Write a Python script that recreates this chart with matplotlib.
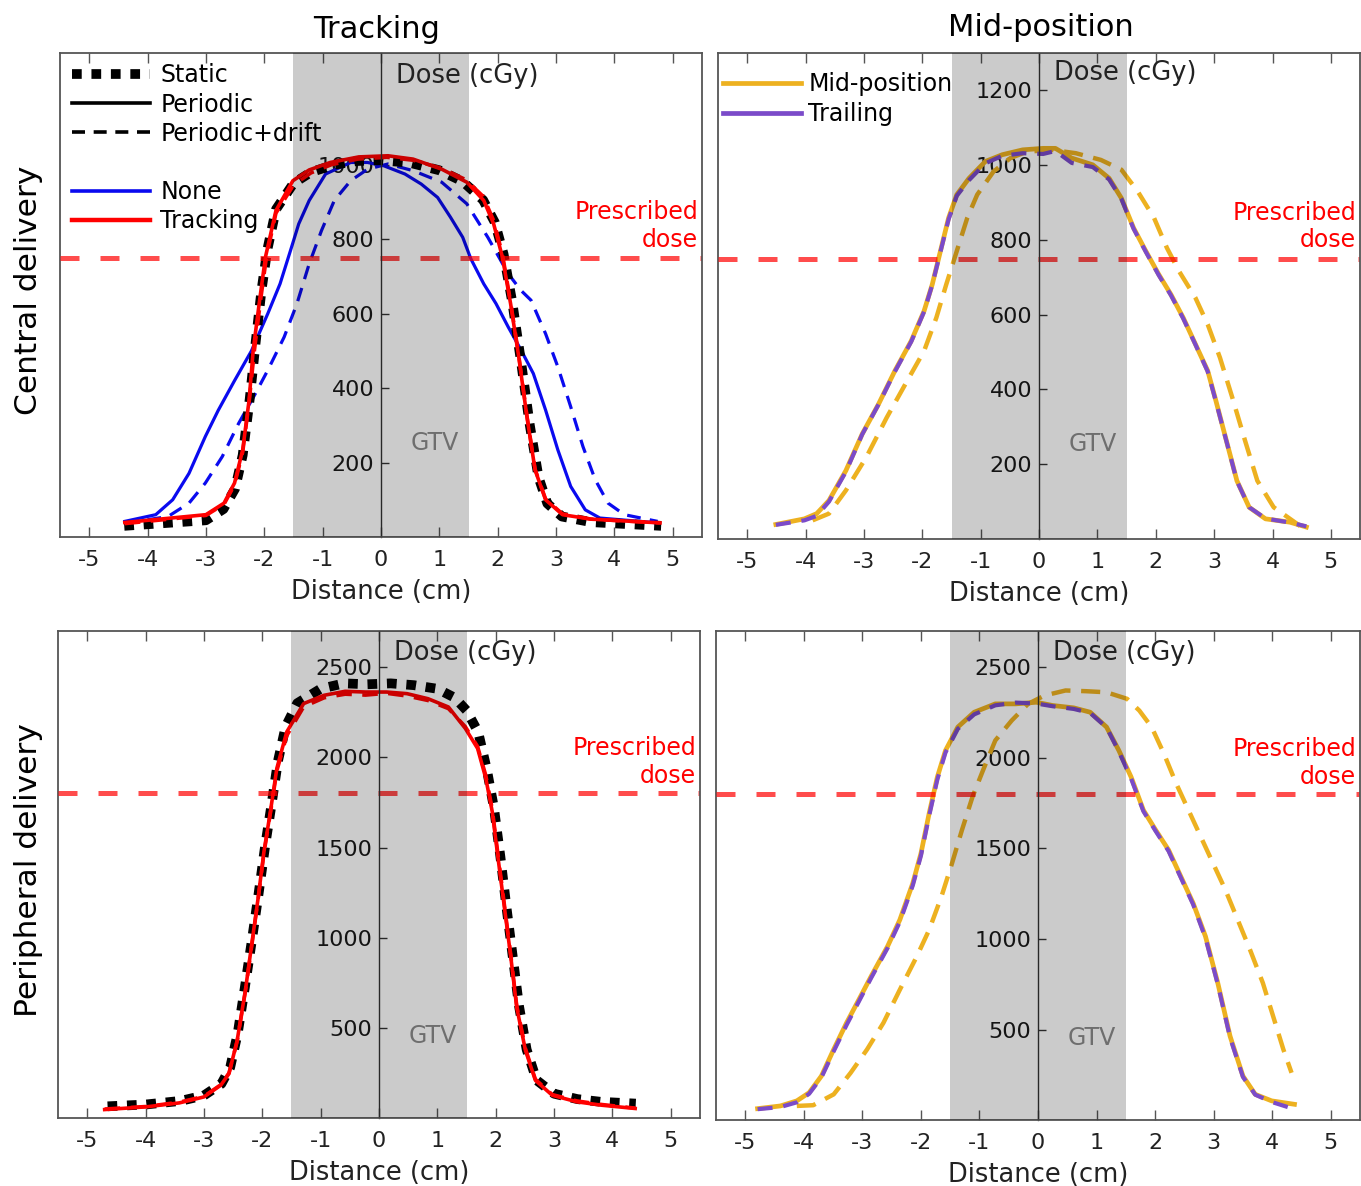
import matplotlib
matplotlib.use("Agg")
import matplotlib.pyplot as plt
from matplotlib.lines import Line2D

plt.rcParams["font.family"] = ["DejaVu Sans"]
plt.rcParams["axes.unicode_minus"] = False

# ==================================================
# DATA
# ==================================================

x_ticks = [-5, -4, -3, -2, -1, 0, 1, 2, 3, 4, 5]
gtv_edges = [-1.5, 1.5]
prescribed_central = 750
prescribed_peripheral = 1800

# --- central delivery, tracking panel
x_c_static = [-4.4, -3.0, -2.7, -2.5, -2.37, -2.25, -2.15, -2.05, -1.95, -1.8, -1.5, -1.2, -0.8, -0.4, 0.0,
              0.5, 1.0, 1.4, 1.75, 1.95, 2.1, 2.25, 2.4, 2.55, 2.7, 2.85, 3.1, 3.6, 4.8]
y_c_static = [30, 45, 75, 130, 220, 370, 520, 660, 770, 880, 950, 980, 1000, 1010, 1012,
              1005, 985, 955, 905, 845, 760, 630, 470, 300, 160, 90, 55, 40, 30]

x_c_trk_per = [-4.39, -3.0, -2.69, -2.51, -2.37, -2.26, -2.19, -2.08, -1.98, -1.80, -1.51, -1.23, -0.87, -0.38, 0.12,
               0.55, 1.04, 1.47, 1.76, 1.93, 2.08, 2.22, 2.36, 2.50, 2.64, 2.82, 3.11, 3.60, 4.78]
y_c_trk_per = [39, 60, 91, 145, 234, 368, 502, 636, 752, 877, 957, 986, 1006, 1021, 1024,
               1015, 988, 953, 904, 841, 752, 627, 484, 323, 180, 100, 60, 48, 38]

x_c_trk_drift = [-4.39, -3.0, -2.69, -2.51, -2.37, -2.26, -2.17, -2.06, -1.96, -1.80, -1.50, -1.20, -0.85, -0.40, 0.10,
                 0.55, 1.05, 1.45, 1.75, 1.93, 2.08, 2.22, 2.36, 2.50, 2.64, 2.82, 3.11, 3.60, 4.78]
y_c_trk_drift = [36, 58, 88, 140, 228, 362, 500, 640, 755, 870, 945, 978, 1000, 1015, 1020,
                 1012, 990, 960, 915, 850, 760, 632, 488, 326, 182, 102, 62, 48, 38]

x_c_none_per = [-4.39, -3.86, -3.57, -3.29, -3.01, -2.79, -2.51, -2.22, -1.94, -1.73, -1.55, -1.41, -1.23, -0.95,
                -0.52, -0.23, 0.05, 0.41, 0.69, 0.97, 1.19, 1.40, 1.54, 1.76, 1.97, 2.18, 2.40, 2.61, 2.82,
                3.03, 3.25, 3.50, 3.75, 4.74]
y_c_none_per = [42, 60, 100, 171, 270, 340, 420, 500, 600, 680, 770, 841, 904, 975,
                1006, 1006, 997, 975, 948, 912, 859, 805, 747, 680, 627, 564, 502, 439, 341,
                234, 136, 73, 51, 38]

x_c_none_drift = [-4.39, -3.65, -3.29, -3.01, -2.72, -2.44, -2.15, -1.94, -1.66, -1.44, -1.23, -1.02, -0.80, -0.52,
                  -0.23, 0.12, 0.55, 1.04, 1.47, 1.83, 2.18, 2.40, 2.57, 2.82, 3.03, 3.25, 3.46, 3.67, 3.89,
                  4.17, 4.74]
y_c_none_drift = [37, 55, 91, 145, 216, 305, 386, 448, 537, 627, 734, 823, 904, 957,
                  988, 1002, 984, 953, 895, 805, 707, 662, 636, 546, 457, 350, 243, 154, 91,
                  60, 42]

# --- central delivery, mid-position panel
x_c_mid_per = [-4.51, -4.02, -3.81, -3.60, -3.31, -3.03, -2.75, -2.47, -2.19, -1.97, -1.83, -1.69, -1.55, -1.41,
               -1.20, -0.92, -0.63, -0.28, 0.07, 0.28, 0.56, 0.92, 1.20, 1.41, 1.62, 1.83, 2.05, 2.26, 2.47,
               2.68, 2.89, 3.03, 3.21, 3.39, 3.60, 3.88, 4.30, 4.58]
y_c_mid_per = [39, 54, 68, 103, 183, 281, 361, 450, 530, 610, 681, 770, 859, 921,
               965, 1010, 1028, 1041, 1045, 1045, 1019, 1001, 965, 912, 832, 770, 708, 654, 592,
               521, 450, 370, 263, 156, 85, 54, 45, 32]

x_c_trail = [-4.51, -4.02, -3.81, -3.60, -3.31, -3.03, -2.75, -2.47, -2.19, -1.97, -1.83, -1.69, -1.55, -1.41,
             -1.20, -0.92, -0.63, -0.28, 0.07, 0.28, 0.56, 0.92, 1.20, 1.41, 1.62, 1.83, 2.05, 2.26, 2.47,
             2.68, 2.89, 3.03, 3.21, 3.39, 3.60, 3.88, 4.30, 4.58]
y_c_trail = [38, 50, 62, 100, 180, 280, 360, 448, 528, 608, 680, 768, 855, 918,
             960, 1005, 1025, 1032, 1030, 1038, 1006, 995, 962, 910, 830, 768, 706, 652, 590,
             520, 448, 368, 262, 155, 85, 55, 44, 34]

x_c_mid_drift = [-3.88, -3.60, -3.31, -2.96, -2.61, -2.26, -1.97, -1.76, -1.59, -1.41, -1.23, -1.06, -0.78, -0.49,
                 -0.21, 0.21, 0.63, 1.06, 1.41, 1.69, 1.97, 2.19, 2.40, 2.68, 2.89, 3.10, 3.31, 3.53, 3.74,
                 4.02, 4.30, 4.58]
y_c_mid_drift = [50, 68, 130, 219, 325, 423, 503, 592, 681, 770, 859, 921, 983, 1019,
                 1036, 1041, 1032, 1014, 988, 930, 859, 779, 716, 645, 574, 485, 379, 263, 156,
                 85, 54, 23]

# --- peripheral delivery, tracking panel
x_p_static = [-4.65, -4.0, -3.4, -3.0, -2.7, -2.55, -2.42, -2.3, -2.18, -2.06, -1.95, -1.84, -1.73, -1.6, -1.4,
              -1.0, -0.6, -0.2, 0.2, 0.6, 1.0, 1.3, 1.5, 1.7, 1.85, 1.97, 2.08, 2.18, 2.29, 2.4,
              2.53, 2.7, 3.0, 3.4, 3.8, 4.4]
y_p_static = [65, 75, 95, 125, 190, 280, 470, 720, 980, 1250, 1510, 1740, 1980, 2170, 2300,
              2380, 2410, 2405, 2410, 2400, 2380, 2330, 2260, 2140, 1930, 1720, 1450, 1180, 900, 620,
              380, 210, 135, 105, 90, 80]

x_p_trk_per = [-4.70, -3.99, -3.42, -3.0, -2.71, -2.57, -2.43, -2.29, -2.18, -2.07, -1.97, -1.86, -1.75, -1.58,
               -1.29, -0.94, -0.58, -0.23, 0.13, 0.48, 0.84, 1.19, 1.48, 1.69, 1.83, 1.94, 2.04, 2.15,
               2.26, 2.36, 2.51, 2.68, 2.97, 3.39, 3.82, 4.39]
y_p_trk_per = [47, 62, 84, 117, 182, 246, 430, 706, 964, 1221, 1479, 1700, 1939, 2141,
               2298, 2344, 2366, 2362, 2362, 2353, 2325, 2279, 2160, 2049, 1884, 1700, 1442, 1166,
               890, 614, 375, 209, 126, 90, 71, 53]

x_p_trk_drift = [-4.70, -3.99, -3.42, -3.0, -2.71, -2.57, -2.43, -2.29, -2.18, -2.07, -1.97, -1.86, -1.75, -1.58,
                 -1.29, -0.94, -0.58, -0.23, 0.13, 0.48, 0.84, 1.19, 1.48, 1.69, 1.83, 1.94, 2.04, 2.15,
                 2.26, 2.36, 2.51, 2.68, 2.97, 3.39, 3.82, 4.39]
y_p_trk_drift = [50, 64, 88, 120, 185, 250, 425, 700, 955, 1215, 1470, 1690, 1925, 2120,
                 2280, 2330, 2350, 2345, 2355, 2340, 2315, 2270, 2170, 2060, 1900, 1715, 1460, 1180,
                 900, 625, 385, 215, 130, 95, 75, 55]

# --- peripheral delivery, mid-position panel
x_p_mid_per = [-4.79, -4.40, -4.12, -3.91, -3.70, -3.49, -3.27, -3.06, -2.85, -2.57, -2.36, -2.14, -2.00, -1.86,
               -1.72, -1.58, -1.37, -1.09, -0.73, -0.38, -0.03, 0.25, 0.61, 0.89, 1.17, 1.38, 1.59, 1.80,
               2.01, 2.23, 2.44, 2.65, 2.86, 3.07, 3.28, 3.50, 3.71, 3.99, 4.38]
y_p_mid_per = [63, 78, 106, 151, 243, 390, 537, 665, 794, 959, 1106, 1307, 1472, 1693,
               1894, 2041, 2170, 2252, 2298, 2298, 2307, 2289, 2276, 2252, 2170, 2041, 1894, 1711,
               1601, 1491, 1344, 1197, 1014, 757, 463, 243, 142, 106, 87]

x_p_trail = [-4.79, -4.40, -4.12, -3.91, -3.70, -3.49, -3.27, -3.06, -2.85, -2.57, -2.36, -2.14, -2.00, -1.86,
             -1.72, -1.58, -1.37, -1.09, -0.73, -0.38, -0.03, 0.25, 0.61, 0.89, 1.17, 1.38, 1.59, 1.80,
             2.01, 2.23, 2.44, 2.65, 2.86, 3.07, 3.28, 3.50, 3.71, 3.99, 4.38]
y_p_trail = [60, 72, 98, 145, 235, 380, 525, 655, 785, 950, 1095, 1295, 1460, 1680,
             1880, 2030, 2160, 2240, 2290, 2305, 2300, 2285, 2270, 2248, 2168, 2035, 1885, 1705,
             1595, 1485, 1338, 1190, 1005, 750, 455, 238, 140, 100, 60]

x_p_mid_drift = [-4.12, -3.84, -3.49, -3.20, -2.92, -2.64, -2.36, -2.07, -1.86, -1.65, -1.47, -1.30, -1.12, -0.94,
                 -0.73, -0.45, -0.17, 0.11, 0.47, 0.82, 1.17, 1.52, 1.73, 1.94, 2.15, 2.36, 2.57, 2.78,
                 2.99, 3.20, 3.41, 3.62, 3.84, 4.05, 4.19, 4.33]
y_p_mid_drift = [78, 82, 142, 261, 390, 537, 720, 904, 1050, 1234, 1417, 1601, 1784, 1931,
                 2096, 2206, 2298, 2344, 2372, 2368, 2362, 2326, 2261, 2170, 2023, 1858, 1711, 1564,
                 1417, 1271, 1106, 941, 757, 537, 390, 261]

# ==================================================
# STYLE
# ==================================================

C_BLUE = "#0a0aef"
C_RED = "#ff0000"
C_ORANGE = "#edb120"
C_PURPLE = "#7b4bc9"
FRAME = "#555555"
TXT = "#1a1a1a"

STATIC_KW = dict(color="black", lw=7, linestyle=(0, (1, 1)), dash_capstyle="butt")
DASH = (0, (4.3, 2.9))


def setup_axes(ax, ylim, yticks, prescribed, label_y, gtv_y):
    ax.set_xlim(-5.5, 5.5)
    ax.set_ylim(*ylim)
    ax.set_axisbelow(True)

    # y axis sits at x = 0, box kept around the plot
    ax.spines["left"].set_position(("data", 0))
    ax.spines["left"].set_color("#333333")
    ax.spines["left"].set_linewidth(1.0)
    for side in ["top", "bottom", "right"]:
        ax.spines[side].set_color(FRAME)
        ax.spines[side].set_linewidth(1.3)
    ax.add_line(Line2D([0, 0], [0, 1], transform=ax.transAxes,
                       color=FRAME, lw=1.3, clip_on=False))

    ax.set_xticks(x_ticks)
    ax.set_yticks(yticks)
    ax.tick_params(axis="x", direction="in", top=True, length=7, width=1,
                   color=FRAME, labelsize=16, labelcolor="#222222", pad=9)
    ax.tick_params(axis="y", direction="in", right=False, length=6, width=1,
                   color="#333333", labelsize=16, labelcolor=TXT, pad=5)
    ax.set_xlabel("Distance (cm)", fontsize=18.5, color="#222222", labelpad=7)

    # GTV band: a thin dark veil over the curves (darkens lines, keeps labels black)
    ax.axvspan(gtv_edges[0], gtv_edges[1], color="black", alpha=0.204, lw=0, zorder=3)

    ax.axhline(prescribed, color=C_RED, alpha=0.7, lw=3.6,
               linestyle=(0, (3.8, 4.2)), zorder=2.2)

    ax.text(0.523, label_y, "Dose (cGy)", transform=ax.transAxes,
            ha="left", va="center", fontsize=18.5, color="#222222", zorder=6)
    ax.text(0.584, gtv_y, "GTV", transform=ax.transAxes,
            ha="center", va="center", fontsize=17, color="#6e6e6e", zorder=6)


# ==================================================
# FIGURE
# ==================================================

fig = plt.figure(figsize=(13.61, 11.86), dpi=100)

ax_ct = fig.add_axes([0.0441, 0.5472, 0.4717, 0.4081])
ax_cm = fig.add_axes([0.5276, 0.5455, 0.4717, 0.4098])
ax_pt = fig.add_axes([0.0426, 0.0573, 0.4717, 0.4106])
ax_pm = fig.add_axes([0.5261, 0.0556, 0.4732, 0.4123])

setup_axes(ax_ct, (0, 1300), [200, 400, 600, 800, 1000], prescribed_central, 0.952, 0.195)
setup_axes(ax_cm, (0, 1300), [200, 400, 600, 800, 1000, 1200], prescribed_central, 0.958, 0.195)
setup_axes(ax_pt, (0, 2700), [500, 1000, 1500, 2000, 2500], prescribed_peripheral, 0.955, 0.168)
setup_axes(ax_pm, (0, 2700), [500, 1000, 1500, 2000, 2500], prescribed_peripheral, 0.955, 0.168)

# --- central, tracking
ax_ct.plot(x_c_none_drift, y_c_none_drift, color=C_BLUE, lw=2.3, linestyle=DASH)
ax_ct.plot(x_c_none_per, y_c_none_per, color=C_BLUE, lw=2.3)
ax_ct.plot(x_c_static, y_c_static, **STATIC_KW)
ax_ct.plot(x_c_trk_drift, y_c_trk_drift, color=C_RED, lw=2.6, linestyle=DASH)
ax_ct.plot(x_c_trk_per, y_c_trk_per, color=C_RED, lw=2.6)

# --- central, mid-position
ax_cm.plot(x_c_mid_drift, y_c_mid_drift, color=C_ORANGE, lw=3.2, linestyle=(0, (4.3, 2.4)))
ax_cm.plot(x_c_mid_per, y_c_mid_per, color=C_ORANGE, lw=3.4)
ax_cm.plot(x_c_trail, y_c_trail, color=C_PURPLE, lw=3.0, linestyle=(0, (3.6, 2.6)))

# --- peripheral, tracking
ax_pt.plot(x_p_static, y_p_static, **STATIC_KW)
ax_pt.plot(x_p_trk_drift, y_p_trk_drift, color=C_RED, lw=2.6, linestyle=DASH)
ax_pt.plot(x_p_trk_per, y_p_trk_per, color=C_RED, lw=2.6)

# --- peripheral, mid-position
ax_pm.plot(x_p_mid_drift, y_p_mid_drift, color=C_ORANGE, lw=3.2, linestyle=(0, (4.3, 2.4)))
ax_pm.plot(x_p_mid_per, y_p_mid_per, color=C_ORANGE, lw=3.4)
ax_pm.plot(x_p_trail, y_p_trail, color=C_PURPLE, lw=3.0, linestyle=(0, (3.6, 2.6)))

# prescribed dose notes
for ax, y in [(ax_ct, 0.643), (ax_cm, 0.643), (ax_pt, 0.731), (ax_pm, 0.731)]:
    ax.text(0.994, y, "Prescribed\ndose", transform=ax.transAxes, ha="right", va="center",
            fontsize=17, color=C_RED, linespacing=1.2, zorder=6)

# ==================================================
# LEGENDS
# ==================================================

handles_trk = [
    Line2D([], [], **STATIC_KW),
    Line2D([], [], color="black", lw=2.6),
    Line2D([], [], color="black", lw=2.6, linestyle=(0, (3.6, 2.4))),
    Line2D([], [], color="none"),
    Line2D([], [], color=C_BLUE, lw=2.6),
    Line2D([], [], color=C_RED, lw=3.2),
]
labels_trk = ["Static", "Periodic", "Periodic+drift", " ", "None", "Tracking"]
leg = ax_ct.legend(handles_trk, labels_trk, loc="upper left", bbox_to_anchor=(0.0, 1.003),
                   frameon=False, fontsize=17, handlelength=3.3, handletextpad=0.45,
                   labelspacing=0.22, borderaxespad=0.1)
leg.set_zorder(10)

handles_mid = [
    Line2D([], [], color=C_ORANGE, lw=3.4),
    Line2D([], [], color=C_PURPLE, lw=3.4),
]
leg2 = ax_cm.legend(handles_mid, ["Mid-position", "Trailing"], loc="upper left",
                    bbox_to_anchor=(-0.01, 0.985), frameon=False, fontsize=17,
                    handlelength=3.3, handletextpad=0.3, labelspacing=0.26,
                    borderaxespad=0.1)
leg2.set_zorder(10)

# ==================================================
# TITLES AND ROW LABELS
# ==================================================

fig.text(0.277, 0.975, "Tracking", ha="center", va="center", fontsize=22)
fig.text(0.765, 0.977, "Mid-position", ha="center", va="center", fontsize=22)
fig.text(0.021, 0.755, "Central delivery", rotation=90, ha="center", va="center", fontsize=22.5)
fig.text(0.021, 0.266, "Peripheral delivery", rotation=90, ha="center", va="center", fontsize=22.5)

fig.savefig("out.png", dpi=100)
print("saved out.png")
